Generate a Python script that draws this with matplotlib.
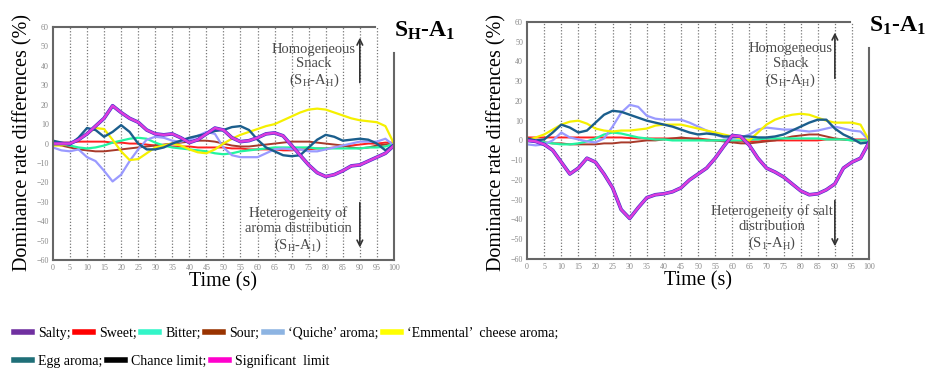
import matplotlib.pyplot as plt
from matplotlib.lines import Line2D

plt.rcParams['font.family'] = 'Liberation Serif'
plt.rcParams['mathtext.fontset'] = 'custom'
plt.rcParams['mathtext.rm'] = 'Liberation Serif'
plt.rcParams['mathtext.it'] = 'Liberation Serif:italic'
plt.rcParams['mathtext.bf'] = 'Liberation Serif:bold'

# time grid (s), read every 2.5 s
time = [0, 2.5, 5, 7.5, 10, 12.5, 15, 17.5, 20, 22.5, 25, 27.5, 30, 32.5, 35, 37.5,
        40, 42.5, 45, 47.5, 50, 52.5, 55, 57.5, 60, 62.5, 65, 67.5, 70, 72.5, 75,
        77.5, 80, 82.5, 85, 87.5, 90, 92.5, 95, 97.5, 100]

# ---- S_H - A_1 ----
sh_salty = [0, 0, 0, 2, 5, 9, 13, 19.5, 16, 13, 11, 7, 5, 4.5, 5, 3, 0.5, 2, 5, 8, 7, 3,
            1, 1.5, 3, 5, 5.5, 4, -1, -6, -11, -15, -17, -16, -14, -11.5, -11, -9, -7, -5, -1]
sh_sweet = [0, 0.5, 0.5, 1, 1, 1, 1, 0.5, 0.5, 0, 0, -0.5, -1, -1, -1.5, -1.5, -1.5, -2,
            -2, -2, -2, -2.5, -2.5, -3, -3, -3, -3, -3.5, -3.5, -3, -3, -2.5, -2.5, -2,
            -1.5, -1, -0.5, 0, 0, 0.5, 0.5]
sh_bitter = [0, -0.5, -1, -2, -2.5, -2, -1, 0.5, 1.5, 2.5, 3, 2.5, 0.5, -1, -2, -2.5, -3,
             -3.5, -4, -5, -5.5, -5, -4, -3.5, -3, -2.5, -2, -2, -2, -2, -2, -2.5, -2.5,
             -2.5, -2.5, -2.5, -2.5, -2, -2, -1.5, 0]
sh_sour = [0, -1, -2, -3, -3.5, -4, -4, -3.5, -3, -2.5, -2, -1.5, -1, -0.5, 0, 0.5, 1, 1.5,
           1.5, 1, 0, -1, -1.5, -1.5, -1, -0.5, 0, 0.5, 1, 1, 1, 0.5, 0, -0.5, -1, -2, -2.5,
           -2, -1, -0.5, 0]
sh_quiche = [-2, -3.5, -4, -3, -7, -9, -14, -19.5, -16, -9, -3, 2, 3.5, 3, 1.5, 1, 2, 4, 6,
             5, -2, -6, -7, -7, -7, -5, -3, -2.5, -3, -3, -4, -4, -3, -2, -1, 0, 1, 1, 1,
             2.5, -1]
sh_emmental = [-1, -1, 0, 2, 5, 8, 7.5, 2, -4, -8.5, -8, -5, -2, -1, 0, -1, -3, -4.5, -5,
               -3, 0, 2.5, 4.5, 6, 7.5, 9, 10, 12, 14, 16, 17.5, 18, 17.5, 16, 14.5, 13, 12,
               11.5, 11, 9, 0]
sh_egg = [1.5, 0.5, -0.5, 3, 8, 7, 3.5, 6, 9.5, 6, 0, -3, -3, -2, 0, 1.5, 3, 4, 5, 6.5, 7,
          8.5, 9, 7, 2, -2, -4, -6, -6.5, -6, -2, 2, 4.5, 3.5, 1.5, 2, 2.5, 2, 0, -3.5, -0.5]

# ---- S_1 - A_1 ----
s1_salty = [0, -0.5, -2, -5, -11, -17, -14, -9, -11, -17, -24, -35, -39.5, -34, -29, -27.5,
            -27, -26, -24, -20, -17, -14, -9, -3, 2.5, 2, -2.5, -9, -14, -16, -18.5, -22,
            -25.5, -27.5, -27, -25, -22, -14, -11, -9, -1]
s1_sweet = [1.5, 1.5, 1.5, 1.5, 1.5, 1.5, 1.5, 1.5, 1.5, 1.5, 1.5, 1.5, 1.2, 1, 1, 1, 1, 1,
            1, 1, 1, 0.5, 0, 0, -0.5, -0.5, -0.5, -0.5, 0, 0, 0, 0, 0, 0, 0, 0.5, 0.5, 0.5,
            0.5, 0.5, 0.5]
s1_bitter = [0, -0.5, -1, -1.5, -2, -2, -1.5, -0.5, 1, 3, 4, 3.5, 2.5, 1.5, 1, 0.5, 0.5, 0,
             0, 0, 0, 0, 0, 0, 0, 0, 0.5, 0.5, 1, 1, 1, 1, 1, 1, 1, 0.5, 0.5, 0.5, 0, 0, 0]
s1_sour = [0, -0.5, -1, -1.5, -1.5, -2, -2, -2, -2, -1.5, -1.5, -1, -1, -0.5, 0, 0, 0.5, 1,
           1.5, 1, 0.5, 0, 0, -0.5, -1, -1.5, -1.5, -1, -0.5, 0, 1, 2, 2.5, 3, 3, 2, 1, 0.5,
           0, 0, 0]
s1_quiche = [-2, -2.5, -2, 0, 4, 1.5, 0.5, -0.5, -1, 1, 7, 14, 18, 17, 12.5, 11, 10.5, 10.5,
             10.5, 9, 7, 5, 3, 1.5, 1, 1.5, 3, 5.5, 6.5, 6, 5.5, 5.5, 5, 4.5, 5, 6, 7, 6, 5,
             4.5, 0]
s1_emmental = [0, 1.5, 3, 5.5, 8, 9.5, 10, 8.5, 6, 5, 4.5, 5, 5, 5.5, 6, 7.5, 8, 8, 8, 7, 6,
               5, 4, 3, 2, 1, 0, 4, 8, 10.5, 12, 13, 13.5, 13, 11.5, 10, 9, 9, 9, 8, 0]
s1_egg = [1, 0, 0.5, 4, 8, 6.5, 4, 5, 9, 13, 15, 14.5, 13, 11.5, 10, 9, 8, 7, 5.5, 4, 3,
          3.5, 3, 2, 2, 2, 2, 1.5, 1.5, 2, 3, 5, 7, 9, 10.5, 10.5, 6, 3, 1, -1.5, -1]

legend_labels = ['Salty;', 'Sweet;', 'Bitter;', 'Sour;', '\u2018Quiche\u2019 aroma;',
                 '\u2018Emmental\u2019  cheese aroma;', 'Egg aroma;', 'Chance limit;',
                 'Significant  limit']
legend_colors = ['#7030A0', '#FF0000', '#33F5C8', '#993300', '#8DB4E2', '#FFFF00',
                 '#1F6F78', '#000000', '#FF00CC']

panels = [
    dict(rect=[0.057, 0.299, 0.3675, 0.628], title=r'S$_\mathbf{H}$-A$_\mathbf{1}$',
         salty=sh_salty, sweet=sh_sweet, bitter=sh_bitter, sour=sh_sour,
         quiche=sh_quiche, emmental=sh_emmental, egg=sh_egg,
         top_text='Homogeneous\nSnack\n(S$_\\mathrm{H}$-A$_\\mathrm{H}$)', top_x=76.5, top_y=40,
         bot_text='Heterogeneity of\naroma distribution\n(S$_\\mathrm{H}$-A$_\\mathrm{1}$)',
         bot_x=72, bot_y=-44.5, ylab_x=0.025),
    dict(rect=[0.568, 0.302, 0.3685, 0.639], title=r'S$_\mathbf{1}$-A$_\mathbf{1}$',
         salty=s1_salty, sweet=s1_sweet, bitter=s1_bitter, sour=s1_sour,
         quiche=s1_quiche, emmental=s1_emmental, egg=s1_egg,
         top_text='Homogeneous\nSnack\n(S$_\\mathrm{H}$-A$_\\mathrm{H}$)', top_x=77, top_y=38,
         bot_text='Heterogeneity of salt\ndistribution\n(S$_\\mathrm{1}$-A$_\\mathrm{H}$)',
         bot_x=71.5, bot_y=-44.5, ylab_x=0.535),
]

fig = plt.figure(figsize=(9.28, 3.71), dpi=100)

for p in panels:
    ax = fig.add_axes(p['rect'])
    ax.set_xlim(0, 100)
    ax.set_ylim(-60, 60)
    for x in range(5, 100, 5):
        ax.axvline(x, color='#777777', lw=0.9, ls=(0, (1, 1.5)), zorder=0)

    ax.plot(time, p['sweet'], color='#FF2020', lw=1.4)
    ax.plot(time, p['sour'], color='#A83A2A', lw=1.4)
    ax.plot(time, p['bitter'], color='#22F5A0', lw=1.6)
    ax.plot(time, p['quiche'], color='#9A9AFF', lw=1.6)
    ax.plot(time, p['emmental'], color='#F5F000', lw=1.6)
    ax.plot(time, p['egg'], color='#1B5E8C', lw=1.7)
    ax.plot(time, p['salty'], color='#3A2ECC', lw=2.6, solid_joinstyle='round')
    ax.plot(time, p['salty'], color='#DD3CDD', lw=1.8, solid_joinstyle='round')

    ax.set_xticks(range(0, 101, 5))
    ax.set_yticks(range(-60, 61, 10))
    ax.tick_params(length=0, labelsize=5.8, labelcolor='#888888', pad=3)
    for s in ['top', 'right']:
        ax.spines[s].set_visible(False)
    for s in ['left', 'bottom']:
        ax.spines[s].set_color('#666666')
        ax.spines[s].set_linewidth(1.5)
    ax.plot([0, 0.945], [1, 1], transform=ax.transAxes, color='#666666', lw=1.5,
            clip_on=False)
    ax.plot([1, 1], [0, 0.89], transform=ax.transAxes, color='#666666', lw=1.5,
            clip_on=False)

    ax.text(1.0, 0.985, p['title'], transform=ax.transAxes, ha='left', va='center',
            fontsize=17, fontweight='bold')
    ax.text(p['top_x'], p['top_y'], p['top_text'], ha='center', va='center',
            fontsize=10.5, color='#4a4a4a', linespacing=1.15)
    ax.text(p['bot_x'], p['bot_y'], p['bot_text'], ha='center', va='center',
            fontsize=10.5, color='#4a4a4a', linespacing=1.15)
    ax.annotate('', xy=(90, 56), xytext=(90, 30),
                arrowprops=dict(arrowstyle='->', color='#333333', lw=1.2))
    ax.annotate('', xy=(90, -55), xytext=(90, -29),
                arrowprops=dict(arrowstyle='->', color='#333333', lw=1.2))

    ax.set_xlabel('Time (s)', fontsize=14.5, labelpad=0)
    fig.text(p['ylab_x'], 0.615, 'Dominance rate differences (%)', rotation=90,
             ha='center', va='center', fontsize=14.5)

handles = [Line2D([0], [0], color=c, lw=4) for c in legend_colors]
fig.legend(handles[:6], legend_labels[:6], loc='center left', bbox_to_anchor=(0.015, 0.102),
           ncol=6, frameon=False, fontsize=10, handlelength=1.3, handletextpad=0.45,
           columnspacing=0.3, borderpad=0, borderaxespad=0)
fig.legend(handles[6:], legend_labels[6:], loc='center left', bbox_to_anchor=(0.015, 0.027),
           ncol=3, frameon=False, fontsize=10, handlelength=1.3, handletextpad=0.45,
           columnspacing=0.3, borderpad=0, borderaxespad=0)

fig.savefig('out.png', dpi=100)
